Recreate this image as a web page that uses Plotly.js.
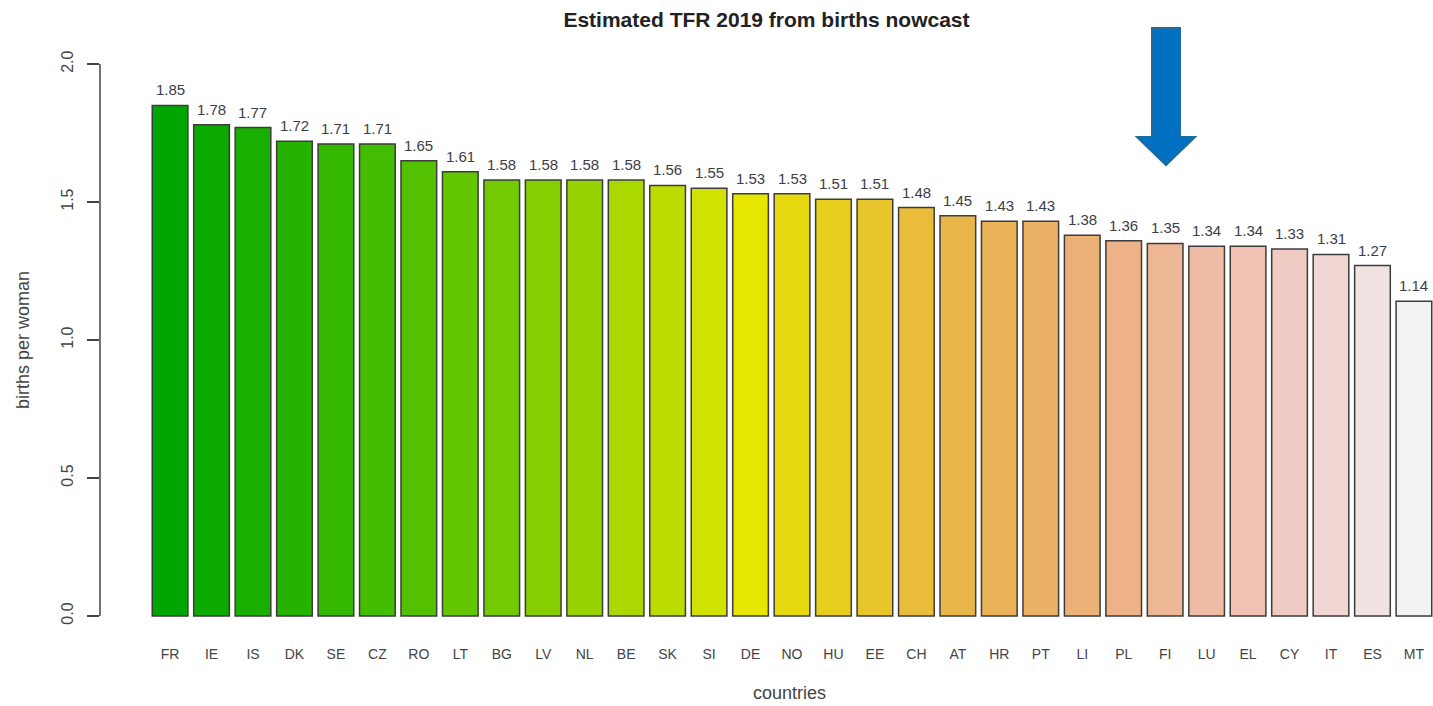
<!DOCTYPE html>
<html>
<head>
<meta charset="utf-8">
<script src="https://cdn.plot.ly/plotly-3.0.1.min.js"></script>
<style>html,body{margin:0;padding:0;background:#fff;}#chart{width:1433px;height:706px;}</style>
</head>
<body>
<div id="chart"></div>
<script>
const countries = ["FR","IE","IS","DK","SE","CZ","RO","LT","BG","LV","NL","BE","SK","SI","DE","NO","HU","EE","CH","AT","HR","PT","LI","PL","FI","LU","EL","CY","IT","ES","MT"];
const tfr = [1.85,1.78,1.77,1.72,1.71,1.71,1.65,1.61,1.58,1.58,1.58,1.58,1.56,1.55,1.53,1.53,1.51,1.51,1.48,1.45,1.43,1.43,1.38,1.36,1.35,1.34,1.34,1.33,1.31,1.27,1.14];
const yTicks = [0, 0.5, 1.0, 1.5, 2.0];

// R terrain.colors(n)
function hsv2hex(h, s, v) {
  const i = Math.floor(h * 6) % 6, f = h * 6 - Math.floor(h * 6);
  const p = v * (1 - s), q = v * (1 - f * s), t = v * (1 - (1 - f) * s);
  let r, g, b;
  switch (i) {
    case 0: r = v; g = t; b = p; break;
    case 1: r = q; g = v; b = p; break;
    case 2: r = p; g = v; b = t; break;
    case 3: r = p; g = q; b = v; break;
    case 4: r = t; g = p; b = v; break;
    default: r = v; g = p; b = q;
  }
  const hx = x => Math.round(x * 255).toString(16).padStart(2, "0");
  return "#" + hx(r) + hx(g) + hx(b);
}
function seq(a, b, n) { const o = []; for (let i = 0; i < n; i++) o.push(n === 1 ? a : a + (b - a) * i / (n - 1)); return o; }
function terrainColors(n) {
  const k = Math.floor(n / 2);
  const out = [];
  const h1 = seq(4/12, 2/12, k), s1 = seq(1, 1, k), v1 = seq(0.65, 0.9, k);
  for (let i = 0; i < k; i++) out.push(hsv2hex(h1[i], s1[i], v1[i]));
  const m = n - k + 1;
  const h2 = seq(2/12, 0, m), s2 = seq(1, 0, m), v2 = seq(0.9, 0.95, m);
  for (let i = 1; i < m; i++) out.push(hsv2hex(h2[i], s2[i], v2[i]));
  return out;
}
const colors = terrainColors(countries.length);

const W = 1433, H = 706, ML = 100, MR = 0, MT = 42, MB = 68;
const pw = W - ML - MR, ph = H - MT - MB;
const px = x => (x - ML) / pw;
const py = y => (H - MB - y) / ph;
const FONT = "Liberation Sans, Arial, sans-serif";

const trace = {
  type: "bar",
  x: countries,
  y: tfr,
  marker: { color: colors, line: { color: "#3c3c3c", width: 1.5 } },
  hoverinfo: "x+y"
};

const annotations = countries.map((c, i) => ({
  x: c, y: tfr[i], xref: "x", yref: "y",
  text: tfr[i].toFixed(2), showarrow: false,
  yanchor: "bottom", yshift: 5,
  font: { family: FONT, size: 15, color: "#3d3d48" }
}));
annotations.push({
  text: "countries", xref: "paper", yref: "paper",
  x: px(789), y: py(693), xanchor: "center", yanchor: "middle", showarrow: false,
  borderpad: 0,
  font: { family: FONT, size: 18, color: "#444" }
});

// block arrow (decoration) in paper coords from pixel positions
const arrowPts = [[1152,28],[1180,28],[1180,137],[1195,137],[1166,165],[1137,137],[1152,137]];
const arrowPath = "M " + arrowPts.map(p => px(p[0]).toFixed(5) + "," + py(p[1]).toFixed(5)).join(" L ") + " Z";

const layout = {
  width: W, height: H,
  margin: { l: ML, r: MR, t: MT, b: MB, pad: 0 },
  paper_bgcolor: "#ffffff", plot_bgcolor: "#ffffff",
  showlegend: false,
  bargap: 0.14,
  title: {
    text: "<b>Estimated TFR 2019 from births nowcast</b>",
    font: { family: FONT, size: 21, color: "#222" },
    x: 0.5, xref: "paper", xanchor: "center",
    y: 1 - 20 / H, yref: "container", yanchor: "middle"
  },
  xaxis: {
    type: "category",
    range: [-1.69, 30.46],
    showgrid: false, zeroline: false, showline: false, ticks: "",
    tickfont: { family: FONT, size: 14, color: "#444" },
    ticklabelstandoff: 6
  },
  yaxis: {
    range: [-0.08, 2.08],
    tickvals: yTicks,
    ticktext: yTicks.map(v => v.toFixed(1)),
    tickangle: -90,
    showgrid: false, zeroline: false, showline: false,
    ticks: "outside", ticklen: 12, tickwidth: 1.5, tickcolor: "#444",
    tickfont: { family: FONT, size: 16, color: "#444" },
    ticklabelstandoff: 8,
    title: { text: "births per woman", font: { family: FONT, size: 18, color: "#444" }, standoff: 24 }
  },
  annotations: annotations,
  shapes: [
    { type: "line", xref: "paper", yref: "y", x0: 0, x1: 0, y0: yTicks[0], y1: yTicks[yTicks.length - 1], line: { color: "#444", width: 1.5 } },
    { type: "path", xref: "paper", yref: "paper", path: arrowPath, fillcolor: "#0070C0", line: { color: "#1F6C9C", width: 2 }, layer: "above" }
  ]
};

Plotly.newPlot("chart", [trace], layout, { displayModeBar: false, staticPlot: true });
</script>
</body>
</html>
